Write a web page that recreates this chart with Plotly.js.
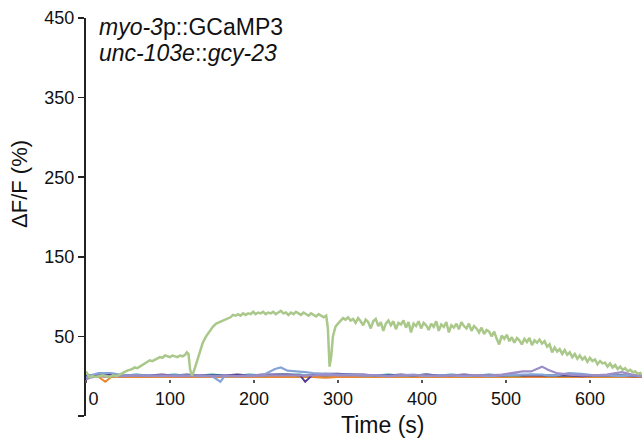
<!DOCTYPE html>
<html>
<head>
<meta charset="utf-8">
<script src="https://cdn.plot.ly/plotly-3.0.1.min.js"></script>
<style>html,body{margin:0;padding:0;background:#fff;}#chart{width:642px;height:444px;}</style>
</head>
<body>
<div id="chart"></div>
<script>
// Green trace (responding animal)
const greenT = [0,2,4,8,12,16,20,24,28,32,36,40,43,46,49,52,55,58,61,64,67,70,73,76,79,82,85,88,91,94,97,100,103,106,109,112,115,118,120,122,124,126,128,131,135,139,143,147,151,155,159,163,166,169,172,175,178,181,184,187,190,193,196,199,202,205,208,211,214,217,220,223,226,229,232,235,238,241,244,247,250,253,256,259,262,265,268,271,274,277,280,283,286,288,290,292,294,297,300,303,306,309,312,315,318,321,324,327,330,333,336,339,342,345,348,351,354,357,360,363,366,369,372,375,378,381,384,387,390,393,396,399,402,405,408,411,414,417,420,423,426,429,432,435,438,441,444,447,450,453,456,459,462,465,468,471,474,477,480,483,486,489,492,495,498,501,504,507,510,513,516,519,522,525,528,531,534,537,540,543,546,549,552,555,558,561,564,567,570,573,576,579,582,585,588,591,594,597,600,603,606,609,612,615,618,621,624,627,630,633,636,639,642,645,648,651,654,657,660,662];
const greenV = [6,2,-1,0,-1,0,1,0,-1,1,0,2,4,6,7,8,9,11,10,12,14,16,18,20,19,21,23,24,23,26,25,24,26,25,24,26,25,27,30,28,8,1,5,15,28,42,50,56,62,66,68,69,71,73,74,77,76,78,76,79,77,79,78,81,78,80,79,81,78,80,79,81,78,80,82,79,80,77,80,78,81,79,77,80,78,76,79,77,75,78,76,74,76,60,12,25,50,62,66,70,73,71,74,70,72,67,73,69,64,71,68,60,69,72,63,68,57,66,70,64,69,59,67,65,70,61,68,55,66,63,69,60,67,64,58,66,62,69,57,65,62,68,55,64,61,66,59,68,63,60,66,57,63,60,55,61,53,58,56,50,56,47,40,51,47,52,44,49,42,48,45,40,47,43,48,39,45,42,46,41,44,37,40,30,36,31,34,28,33,27,30,24,28,22,26,21,24,18,23,19,21,15,19,16,17,12,16,11,14,9,12,8,10,6,8,5,6,3,4,2];

// Baseline (non-responding) traces
const baseT = [0,5,15,23,30,45,60,75,90,105,120,135,150,160,165,180,195,210,225,232,240,255,261,270,285,300,315,330,345,360,375,390,405,420,435,450,465,480,495,510,520,530,543,550,560,575,590,605,620,638,650,662];
const blueV   = [-2,1,4,4,4,1,1,1,0,1,1,0,0,-7,0,0,1,1,9,11,7,5,5,4,3,2,2,1,1,0,1,2,0,1,1,0,1,0,1,2,2,2,2,1,1,4,3,1,1,0,1,0];
const lavV    = [-4,-2,0,0,0,0,1,0,1,0,0,1,0,0,1,0,0,1,1,1,1,1,1,1,2,1,1,1,1,0,1,1,1,0,1,1,1,1,2,4,6,6,12,8,4,2,1,1,2,5,2,1];
const dpurV   = [0,1,1,1,2,1,1,1,2,1,2,1,1,1,1,2,1,2,2,2,2,1,-7,2,3,3,2,2,1,1,2,1,2,1,1,2,1,1,1,2,1,1,1,1,1,1,0,1,1,1,0,0];
const tealV   = [1,1,1,1,1,1,2,1,1,2,1,1,2,1,1,1,2,1,2,2,2,2,1,2,1,2,2,1,1,2,1,1,2,1,2,1,1,2,1,1,1,2,1,1,1,1,1,1,1,1,1,1];
const orangeV = [-1,-1,-1,-7,-1,-1,-1,-1,-1,-1,-1,-1,-1,-1,-1,-1,-1,-1,-1,-1,-1,-1,-1,-1,-2,-1,-1,-1,-1,-1,-1,-1,-1,-1,-1,-1,-1,-1,-1,-1,-1,-1,-1,-1,-1,-1,-1,-1,-1,-1,-1,-1];
const salmonV = [0,0,0,-1,0,0,0,-1,0,0,0,0,-1,0,0,0,0,-1,0,0,0,0,-1,0,0,-1,0,0,0,0,-1,0,0,0,0,-1,0,0,0,0,0,0,0,-1,0,0,0,0,0,0,0,0];

const xTicks = [0,100,200,300,400,500,600];
const xTickText = ['\u00a0\u00a0\u00a00','100','200','300','400','500','600'];
const yTicks = [-50,50,150,250,350,450];
const yTickText = ['','50','150','250','350','450'];

function tr(x, y, color, w) {
  return {x: x, y: y, type: 'scatter', mode: 'lines', line: {color: color, width: w}, hoverinfo: 'skip', showlegend: false};
}

const data = [
  tr(baseT, salmonV, '#e27a72', 2),
  tr(baseT, orangeV, '#e8872e', 2),
  tr(baseT, tealV, '#2e9ea6', 2),
  tr(baseT, dpurV, '#553c8e', 2),
  tr(baseT, blueV, '#86a3d6', 2.2),
  tr(baseT, lavV, '#9d8dc6', 2.2),
  tr(greenT, greenV, '#a9c88a', 2.5)
];

const fam = 'Liberation Sans, Arial, sans-serif';

const layout = {
  width: 642, height: 444,
  margin: {l: 86, r: 0, t: 18, b: 28},
  paper_bgcolor: '#fff', plot_bgcolor: '#fff',
  font: {family: fam, color: '#111'},
  xaxis: {
    range: [0, 662], anchor: 'free', position: 0.093,
    showline: false, showgrid: false, zeroline: false,
    ticks: 'outside', ticklen: 3, tickwidth: 1.5, tickcolor: '#555',
    tickvals: xTicks, ticktext: xTickText,
    tickfont: {size: 18, family: fam, color: '#111'}
  },
  yaxis: {
    range: [-50, 450], showline: true, linecolor: '#222', linewidth: 2,
    showgrid: false, zeroline: false,
    ticks: 'outside', ticklen: 6, tickwidth: 1.5, tickcolor: '#222',
    tickvals: yTicks, ticktext: yTickText,
    tickfont: {size: 18, family: fam, color: '#111'}
  },
  annotations: [
    {
      xref: 'paper', yref: 'paper', x: 0.0198, y: 0.977, xanchor: 'left', yanchor: 'middle',
      align: 'left', showarrow: false,
      text: '<i>myo-3</i>p::GCaMP3',
      font: {size: 23, family: fam, color: '#111'}
    },
    {
      xref: 'paper', yref: 'paper', x: 0.0198, y: 0.912, xanchor: 'left', yanchor: 'middle',
      align: 'left', showarrow: false,
      text: '<i>unc-103e</i>::<i>gcy-23</i>',
      font: {size: 23, family: fam, color: '#111'}
    },
    {
      xref: 'paper', yref: 'paper', x: 0.534, y: -0.0226, xanchor: 'center', yanchor: 'middle',
      showarrow: false, text: 'Time (s)',
      font: {size: 23, family: fam, color: '#111'}
    },
    {
      xref: 'paper', yref: 'paper', x: -0.1187, y: 0.583, xanchor: 'center', yanchor: 'middle',
      showarrow: false, text: '\u0394F/F (%)', textangle: -90,
      font: {size: 22, family: fam, color: '#111'}
    }
  ]
};

Plotly.newPlot('chart', data, layout, {displayModeBar: false, staticPlot: true});
</script>
</body>
</html>
